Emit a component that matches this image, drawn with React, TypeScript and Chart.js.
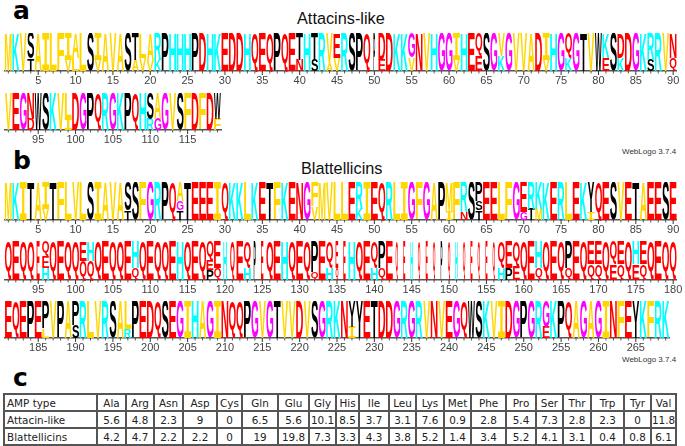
import React, { useEffect, useRef } from "react";
import { Chart, registerables } from "chart.js";

Chart.register(...registerables);

// Each column lists its letters top to bottom with their share of the stack.
const attacinRow1 = [
  "M","K","V","S68 T32","A","I","L","F","I70 V30","A65 L35",
  "L","S","I70 V30","A","V","A","S","T70 A30","L65 V35","A75 V25",
  "R70 K30","P","H","H","H","P","D","H","K","E",
  "D","D","H","Q","E","Q","P","Q","E","T70 N30",
  "H","T70 S30","R","V80 A20","E65 V35","R","S","P","Q","P",
  "D70 E30","D","K","K","G65 V35","N","V","H","G","G",
  "I70 V30","H","E","Q60 E40","S","G","V60 K40","G","V","V",
  "A","D","I70 V30","H","G","Q65 K35","G","T","V","W",
  "K65 E35","S","D65 K35","D","G","K","R70 S30","R","V","N65 Q35",
];
const attacinRow2 = [
  "V","E","G","N70 D30","W","S","K","V","L70 I30","D",
  "G","P","Q","R","G","K","P","Q","H","S70 R30",
  "A70 G30","G","V","S","F","D","F","D","W70 F30",
];
const blatRow1 = [
  "M","K","I","T","A","I70 V30","T","F","L","V",
  "L","S","I","A","V","A","S75 T25","S","F","G",
  "R","P","Q","A50 G25 T25","T","E","E","E","I","Q",
  "K","K","L","K","E","T","F","K","E","N",
  "G","F65 V35","M","V","L","L","E","R70 K30","I","E",
  "Q","R","L","I","G","F","G","A","P","M75 I25",
  "F","R80 N20","S","P50 S25 T25","E","E","L","F","G","E80 G20",
  "R70 T30","K70 M30","K","E","R","L","E","K","Y80 I20","Q",
  "E","S","V","E","T","A","E","E","S","E",
];
const blatRow2 = [
  "Q","E","Q","Q","E","Q40 E30 H30","Q","E","Q","Q",
  "E50 Q50","H50 Q50","Q","E","Q","Q","E","H70 Q30","Q","E",
  "Q","Q","E","H","Q","E","Q","Q50 E25 P25","E70 Q30","H",
  "Q","E","Q70 H30","P","E","Q","E","H","Q","E",
  "Q","P80 Q20","E","Q70 H30","E70 Q30","E","H","Q","E","Q70 H30",
  "P70 Q30","E","Q","E","H","Q","E","Q","P","Q",
  "H","Q","E","Q","E","Q","Q70 H30","E70 P30","Q65 E35","Q",
  "E","H70 Q30","Q","E","Q","P70 Q30","E","Q","E60 Q40","E60 Q40",
  "Q","Q60 E40","E60 Q40","Q","H60 E40","E60 Q40","Q","E","Q","Q",
];
const blatRow3 = [
  "E","Q","E","P","E","P75 L25","V","P","A","P65 S35",
  "R","L","V","R","S","A","L75 R25","P","E","D",
  "Q","S","E","G","I","H","A","G","I","N",
  "Q","Q","P","G","V","G","T","V","V","D",
  "V","S","G","R","K","N","Y70 I30","Y","E","T",
  "D","D","G","R","G","R","V","N","V","E",
  "G","Q","W","S","K","V","I","D","G","P",
  "G","R","G70 E30","K","P","Q","A","G","A","G",
  "I","N","F","E","Y","K","F","R","K",
];

// Columns with few sequences are drawn narrow: position, then occupancy.
const lowOccupancyA: [number, number][] = [[50, 0.25]];
const lowOccupancyB: [number, number][] = [
  [95, 0.45], [120, 0.5], [121, 0.65], [124, 0.3], [125, 0.35], [135, 0.4], [136, 0.35],
  [143, 0.35], [144, 0.3], [145, 0.35], [146, 0.35], [147, 0.3], [148, 0.35], [149, 0.25],
  [150, 0.35], [151, 0.35], [152, 0.35], [153, 0.3], [154, 0.35], [155, 0.3], [156, 0.35],
];

const residueColors: Record<string, string> = {
  A: "#FFD700", V: "#FFD700", L: "#FFD700", I: "#FFD700", M: "#FFD700", F: "#FFD700",
  K: "#00FFFF", R: "#00FFFF", H: "#00FFFF",
  D: "#FF0000", E: "#FF0000", N: "#FF0000", Q: "#FF0000",
  G: "#FF00FF",
  S: "#000000", T: "#000000", P: "#000000", Y: "#000000", W: "#000000",
};

const tableHeader = ["AMP type","Ala","Arg","Asn","Asp","Cys","Gln","Glu","Gly","His","Ile","Leu","Lys","Met","Phe","Pro","Ser","Thr","Trp","Tyr","Val"];
const attacinRow = ["Attacin-like","5.6","4.8","2.3","9","0","6.5","5.6","10.1","8.5","3.7","3.1","7.6","0.9","2.8","5.4","7.3","2.8","2.3","0","11.8"];
const blatRow = ["Blattellicins","4.2","4.7","2.2","2.2","0","19","19.8","7.3","3.3","4.3","3.8","5.2","1.4","3.4","5.2","4.1","3.1","0.4","0.8","6.1"];
const columnEdges = [3,96,125,153,182,216,241,277,308,335,358,388,415,443,470,505,535,562,590,623,650,675];

const COL_W = 7.47;
const COL_LEFT = 4.6;
const AXIS_H = 20;

function parseColumn(s: string) {
  return s.split(" ").map((t) => {
    const m = /([A-Z])(\d*)/.exec(t)!;
    return { letter: m[1], value: m[2] ? Number(m[2]) : 100 };
  });
}

const logoPlugin = {
  id: "logoLetters",
  afterDatasetsDraw(chart: any) {
    const { ctx } = chart;
    const occ: Map<number, number> = chart.options.plugins.logoLetters.occupancy;
    const first: number = chart.options.plugins.logoLetters.first;
    chart.data.datasets.forEach((ds: any, di: number) => {
      chart.getDatasetMeta(di).data.forEach((bar: any, i: number) => {
        const letter = ds.letters[i];
        if (!letter) return;
        const p = bar.getProps(["x", "y", "base", "width"], true);
        const h = p.base - p.y;
        const w = p.width * 0.92 * (occ.get(first + i) ?? 1);
        if (h <= 0) return;
        ctx.save();
        ctx.font = letter === "I" ? 'bold 100px "DejaVu Sans Mono"' : 'bold 100px "Liberation Sans"';
        ctx.textAlign = "left";
        ctx.textBaseline = "alphabetic";
        const m = ctx.measureText(letter);
        const gw = m.actualBoundingBoxLeft + m.actualBoundingBoxRight;
        const gh = m.actualBoundingBoxAscent + m.actualBoundingBoxDescent;
        ctx.translate(p.x - w / 2, p.y);
        ctx.scale(w / gw, h / gh);
        ctx.fillStyle = residueColors[letter];
        ctx.fillText(letter, m.actualBoundingBoxLeft, m.actualBoundingBoxAscent);
        ctx.restore();
      });
    });
    const x = chart.scales.x;
    const yb = chart.chartArea.bottom;
    ctx.save();
    ctx.strokeStyle = "#333";
    x.ticks.forEach((_: any, i: number) => {
      const px = x.getPixelForTick(i);
      const major = (first + i) % 5 === 0;
      ctx.lineWidth = major ? 1 : 0.8;
      ctx.beginPath();
      ctx.moveTo(px, yb);
      ctx.lineTo(px, yb + (major ? 4 : 2.5));
      ctx.stroke();
    });
    ctx.restore();
  },
};

function LogoRow({ columns, first, top, base, occupancy }: { columns: string[]; first: number; top: number; base: number; occupancy: [number, number][] }) {
  const ref = useRef<HTMLCanvasElement>(null);
  useEffect(() => {
    const parsed = columns.map((c) => parseColumn(c).reverse());
    const labels = columns.map((_, i) => String(first + i));
    const datasets = [0, 1, 2].map((layer) => ({
      data: parsed.map((c) => c[layer]?.value ?? 0),
      letters: parsed.map((c) => c[layer]?.letter ?? ""),
      backgroundColor: "rgba(0,0,0,0)",
      borderWidth: 0,
      categoryPercentage: 1,
      barPercentage: 1,
    }));
    const chart = new Chart(ref.current!, {
      type: "bar",
      data: { labels, datasets: datasets as any },
      plugins: [logoPlugin],
      options: {
        animation: false,
        responsive: false,
        layout: { padding: { left: COL_LEFT, right: 685 - COL_LEFT - columns.length * COL_W, top: 0, bottom: 0 } },
        plugins: {
          legend: { display: false },
          tooltip: { enabled: false },
          logoLetters: { occupancy: new Map(occupancy), first },
        } as any,
        scales: {
          x: {
            stacked: true,
            offset: true,
            border: { display: true, color: "#555", width: 1.5 },
            grid: { drawOnChartArea: false, drawTicks: false, offset: false },
            afterFit: (s: any) => {
              s.height = AXIS_H;
              s.paddingLeft = 0;
              s.paddingRight = 0;
            },
            ticks: {
              autoSkip: false,
              maxRotation: 0,
              minRotation: 0,
              padding: 3,
              color: "#444",
              font: { family: '"Liberation Sans"', size: 11 },
              callback: (_v: any, i: number) => ((first + i) % 5 === 0 ? String(first + i) : ""),
            },
          },
          y: { display: false, stacked: true, min: 0, max: 100 },
        },
      },
    });
    return () => chart.destroy();
  }, []);
  return (
    <canvas
      ref={ref}
      width={685}
      height={base - top + AXIS_H}
      style={{ position: "absolute", left: 0, top, display: "block" }}
    />
  );
}

const textBase: React.CSSProperties = { position: "absolute", whiteSpace: "nowrap", lineHeight: 1 };

function Label({ x, y, size, family, weight, color, children }: any) {
  return (
    <div style={{ ...textBase, left: x, top: y, fontSize: size, fontFamily: family, fontWeight: weight, color }}>{children}</div>
  );
}

export default function App() {
  const cell: React.CSSProperties = {
    border: "2px solid #555",
    padding: 0,
    textAlign: "center",
    height: 15,
    whiteSpace: "nowrap",
  };
  const rows = [tableHeader, attacinRow, blatRow];
  return (
    <div style={{ position: "absolute", left: 0, top: 0, width: 685, height: 446, background: "#fff", overflow: "hidden" }}>
      <Label x={13} y={-2} size={25} family='"DejaVu Sans"' weight="bold" color="#000">a</Label>
      <Label x={13} y={148} size={25} family='"DejaVu Sans"' weight="bold" color="#000">b</Label>
      <Label x={13} y={365} size={25} family='"DejaVu Sans"' weight="bold" color="#000">c</Label>
      <Label x={297} y={10} size={16.3} family='"Liberation Sans"' color="#111">Attacins-like</Label>
      <Label x={301} y={160} size={16.3} family='"Liberation Sans"' color="#111">Blattellicins</Label>
      <Label x={622} y={148} size={8} family='"Liberation Sans"' color="#333">WebLogo 3.7.4</Label>
      <Label x={622} y={356} size={8} family='"Liberation Sans"' color="#333">WebLogo 3.7.4</Label>
      <LogoRow columns={attacinRow1} first={1} top={33} base={71} occupancy={lowOccupancyA} />
      <LogoRow columns={attacinRow2} first={91} top={93} base={130} occupancy={lowOccupancyA} />
      <LogoRow columns={blatRow1} first={1} top={182} base={220} occupancy={lowOccupancyB} />
      <LogoRow columns={blatRow2} first={91} top={241} base={280} occupancy={lowOccupancyB} />
      <LogoRow columns={blatRow3} first={181} top={301} base={338} occupancy={lowOccupancyB} />
      <table
        style={{
          position: "absolute",
          left: columnEdges[0],
          top: 393,
          width: columnEdges[columnEdges.length - 1] - columnEdges[0],
          tableLayout: "fixed",
          borderCollapse: "collapse",
          fontFamily: '"DejaVu Sans"',
          fontSize: 10.4,
          color: "#222",
        }}
      >
        <colgroup>
          {tableHeader.map((_, i) => (
            <col key={i} style={{ width: columnEdges[i + 1] - columnEdges[i] }} />
          ))}
        </colgroup>
        <tbody>
          {rows.map((r, ri) => (
            <tr key={ri}>
              {r.map((c, ci) => (
                <td key={ci} style={{ ...cell, textAlign: ci === 0 ? "left" : "center", paddingLeft: ci === 0 ? 2 : 0 }}>{c}</td>
              ))}
            </tr>
          ))}
        </tbody>
      </table>
    </div>
  );
}
